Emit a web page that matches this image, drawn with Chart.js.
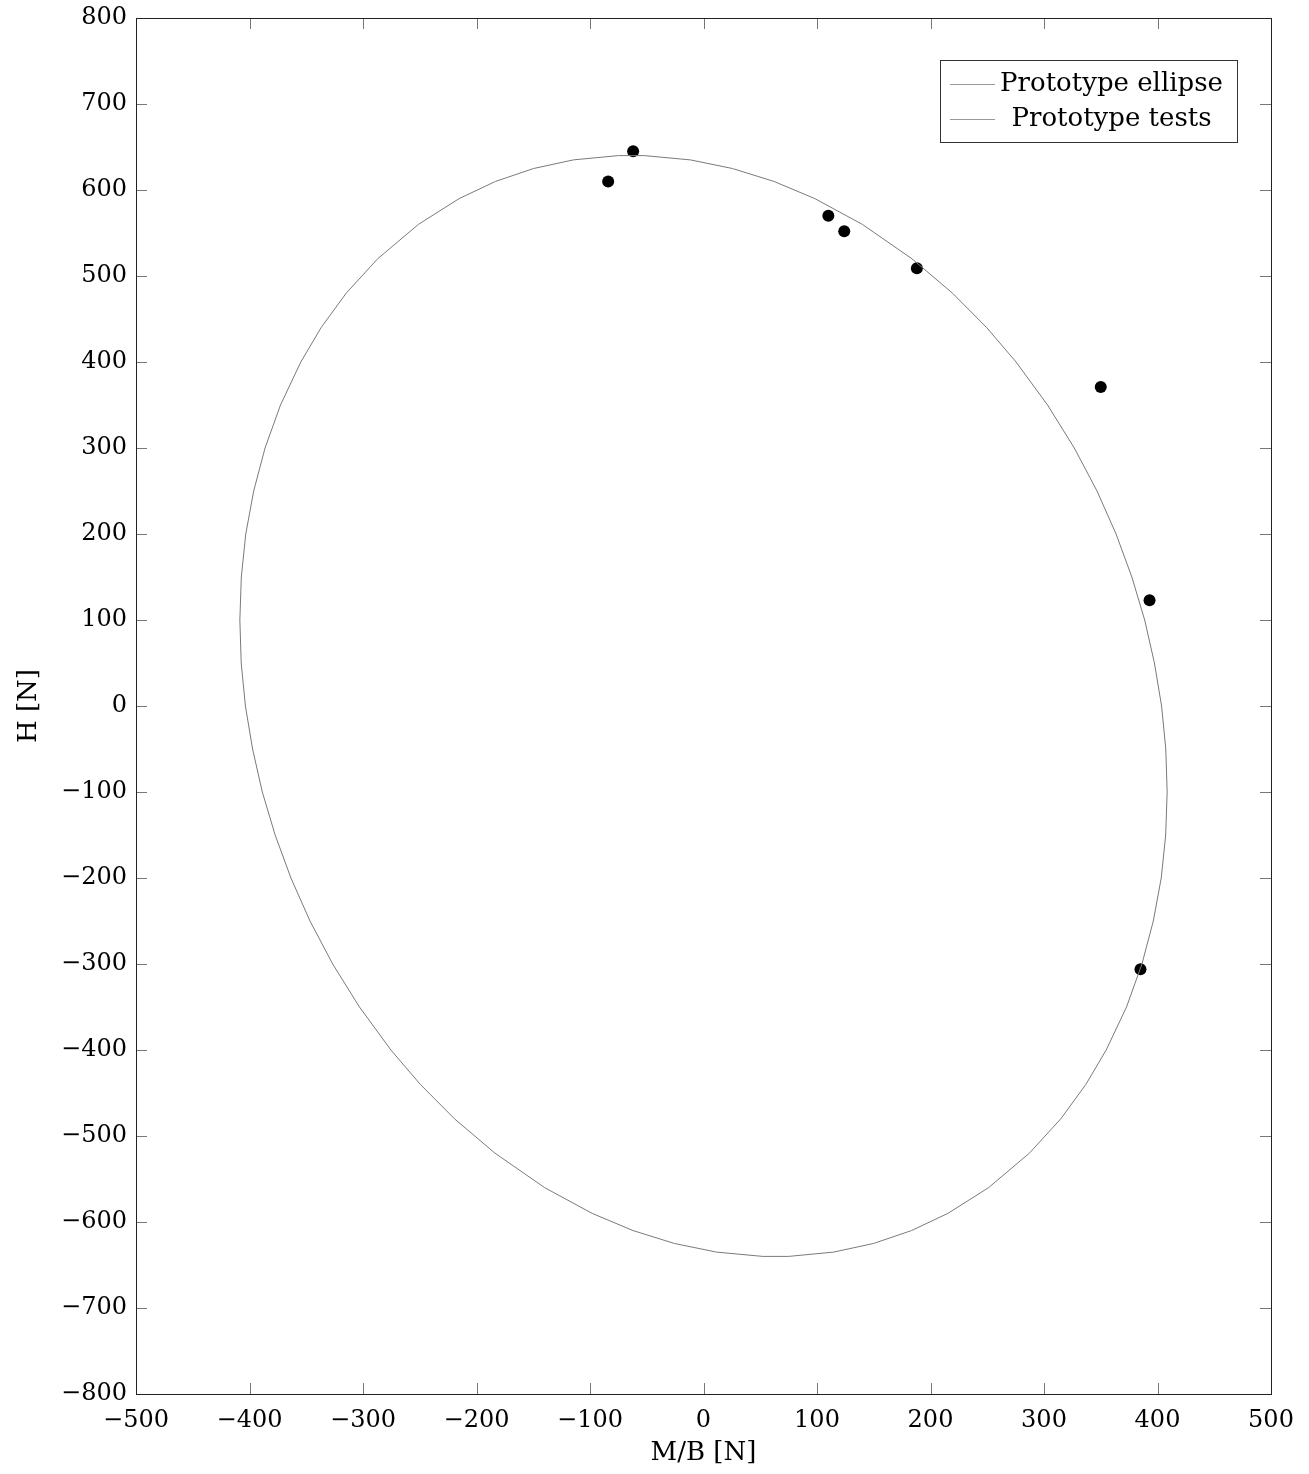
<!DOCTYPE html>
<html>
<head>
<meta charset="utf-8">
<script src="https://cdn.jsdelivr.net/npm/chart.js@4.4.0/dist/chart.umd.min.js"></script>
<style>
  body { margin: 0; background: #fff; }
  #wrap { width: 1309px; height: 1474px; position: relative; }
</style>
</head>
<body>
<div id="wrap"><canvas id="mycanvas"></canvas></div>
<script>
// ellipse outline (clockwise from the top)
var ellipseX = [-52.2, -11.5, 25.5, 62.0, 98.1, 140.0, 183.7, 219.4, 249.5, 275.4, 303.1, 326.7, 346.7, 363.5, 377.4, 388.7, 397.3, 403.6,
  407.3, 408.5, 407.2, 403.3, 396.3, 386.3, 372.7, 354.8, 336.9, 314.8, 287.1, 251.2, 215.3, 183.2, 149.7, 114.7, 75.0,
  52.2, 11.5, -25.5, -62.0, -98.1, -140.0, -183.7, -219.4, -249.5, -275.4, -303.1, -326.7, -346.7, -363.5, -377.4, -388.7, -397.3, -403.6,
  -407.3, -408.5, -407.2, -403.3, -396.3, -386.3, -372.7, -354.8, -336.9, -314.8, -287.1, -251.2, -215.3, -183.2, -149.7, -114.7, -75.0, -52.2];
var ellipseY = [640, 635, 625, 610, 590, 560, 520, 480, 440, 400, 350, 300, 250, 200, 150, 100, 50, 0,
  -50, -100, -150, -200, -250, -300, -350, -400, -440, -480, -520, -560, -590, -610, -625, -635, -640,
  -640, -635, -625, -610, -590, -560, -520, -480, -440, -400, -350, -300, -250, -200, -150, -100, -50, 0,
  50, 100, 150, 200, 250, 300, 350, 400, 440, 480, 520, 560, 590, 610, 625, 635, 640, 640];

// prototype test results
var testX = [-62, -84, 110, 124, 188, 350, 393, 385];
var testY = [645, 610, 570, 552, 509, 371, 123, -306];

var xTicks = [-500, -400, -300, -200, -100, 0, 100, 200, 300, 400, 500];
var yTicks = [-800, -700, -600, -500, -400, -300, -200, -100, 0, 100, 200, 300, 400, 500, 600, 700, 800];

var legendLabels = ['Prototype ellipse', 'Prototype tests'];

var ellipsePts = [];
for (var i in ellipseX) ellipsePts.push({x: ellipseX[i], y: ellipseY[i]});
var testPts = [];
for (var j in testX) testPts.push({x: testX[j], y: testY[j]});

function minus(v) { return String(v).replace('-', '\u2212'); }

Chart.defaults.font.family = 'DejaVu Serif';
Chart.defaults.color = '#000';

// frame, inward ticks on all four sides, and the boxed legend
var framePlugin = {
  id: 'frame',
  afterDraw: function(chart) {
    var ctx = chart.ctx, a = chart.chartArea;
    var xs = chart.scales.x, ys = chart.scales.y;
    var len = 11;
    ctx.save();
    ctx.strokeStyle = '#777';
    ctx.lineWidth = 1;
    ctx.beginPath();
    xTicks.forEach(function(v) {
      var px = Math.round(xs.getPixelForValue(v)) + 0.5;
      ctx.moveTo(px, a.bottom); ctx.lineTo(px, a.bottom - len);
      ctx.moveTo(px, a.top); ctx.lineTo(px, a.top + len);
    });
    yTicks.forEach(function(v) {
      var py = Math.round(ys.getPixelForValue(v)) + 0.5;
      ctx.moveTo(a.left, py); ctx.lineTo(a.left + len, py);
      ctx.moveTo(a.right, py); ctx.lineTo(a.right - len, py);
    });
    ctx.stroke();

    ctx.strokeStyle = '#222';
    ctx.strokeRect(Math.round(a.left) + 0.5, Math.round(a.top) + 0.5, Math.round(a.right - a.left), Math.round(a.bottom - a.top));

    // legend box
    var bx = 940.5, by = 60.5, bw = 297, bh = 82;
    ctx.fillStyle = '#fff';
    ctx.fillRect(bx, by, bw, bh);
    ctx.strokeStyle = '#333';
    ctx.strokeRect(bx, by, bw, bh);
    ctx.font = '26px "DejaVu Serif"';
    ctx.fillStyle = '#000';
    ctx.textAlign = 'center';
    ctx.textBaseline = 'middle';
    var rows = [84, 119];
    legendLabels.forEach(function(txt, k) {
      ctx.strokeStyle = '#999';
      ctx.beginPath();
      ctx.moveTo(950, rows[k] + 0.5); ctx.lineTo(995, rows[k] + 0.5);
      ctx.stroke();
      ctx.fillText(txt, 1111.5, rows[k]);
    });
    ctx.restore();
  }
};

var ctx = document.getElementById('mycanvas');

var chart = new Chart(ctx, {
  type: 'scatter',
  data: {
    datasets: [
      {
        label: legendLabels[0],
        data: ellipsePts,
        showLine: true,
        borderColor: '#7a7a7a',
        borderWidth: 1,
        pointRadius: 0,
        tension: 0,
        fill: false
      },
      {
        label: legendLabels[1],
        data: testPts,
        showLine: false,
        pointRadius: 6,
        backgroundColor: '#000',
        borderColor: '#000',
        borderWidth: 0
      }
    ]
  },
  options: {
    responsive: true,
    maintainAspectRatio: false,
    animation: false,
    layout: { padding: { top: 18, right: 38, left: 0, bottom: 0 } },
    plugins: {
      legend: { display: false },
      tooltip: { enabled: false }
    },
    scales: {
      x: {
        type: 'linear',
        min: -500, max: 500,
        afterBuildTicks: function(s) { s.ticks = xTicks.map(function(v) { return {value: v}; }); },
        afterFit: function(s) { s.height = 80; },
        grid: { display: false, drawTicks: false },
        border: { display: false },
        ticks: { font: { size: 24 }, padding: 12, maxRotation: 0, callback: minus },
        title: { display: true, text: 'M/B [N]', font: { size: 26 }, padding: { top: 0, bottom: 5 } }
      },
      y: {
        type: 'linear',
        min: -800, max: 800,
        afterBuildTicks: function(s) { s.ticks = yTicks.map(function(v) { return {value: v}; }); },
        afterFit: function(s) { s.width = 136; s.paddingTop = 0; s.paddingBottom = 0; },
        grid: { display: false, drawTicks: false },
        border: { display: false },
        ticks: { font: { size: 24 }, padding: 9, callback: minus },
        title: { display: true, text: 'H [N]', font: { size: 26 }, padding: { top: 14, bottom: 0 } }
      }
    }
  },
  plugins: [framePlugin]
});
</script>
</body>
</html>
